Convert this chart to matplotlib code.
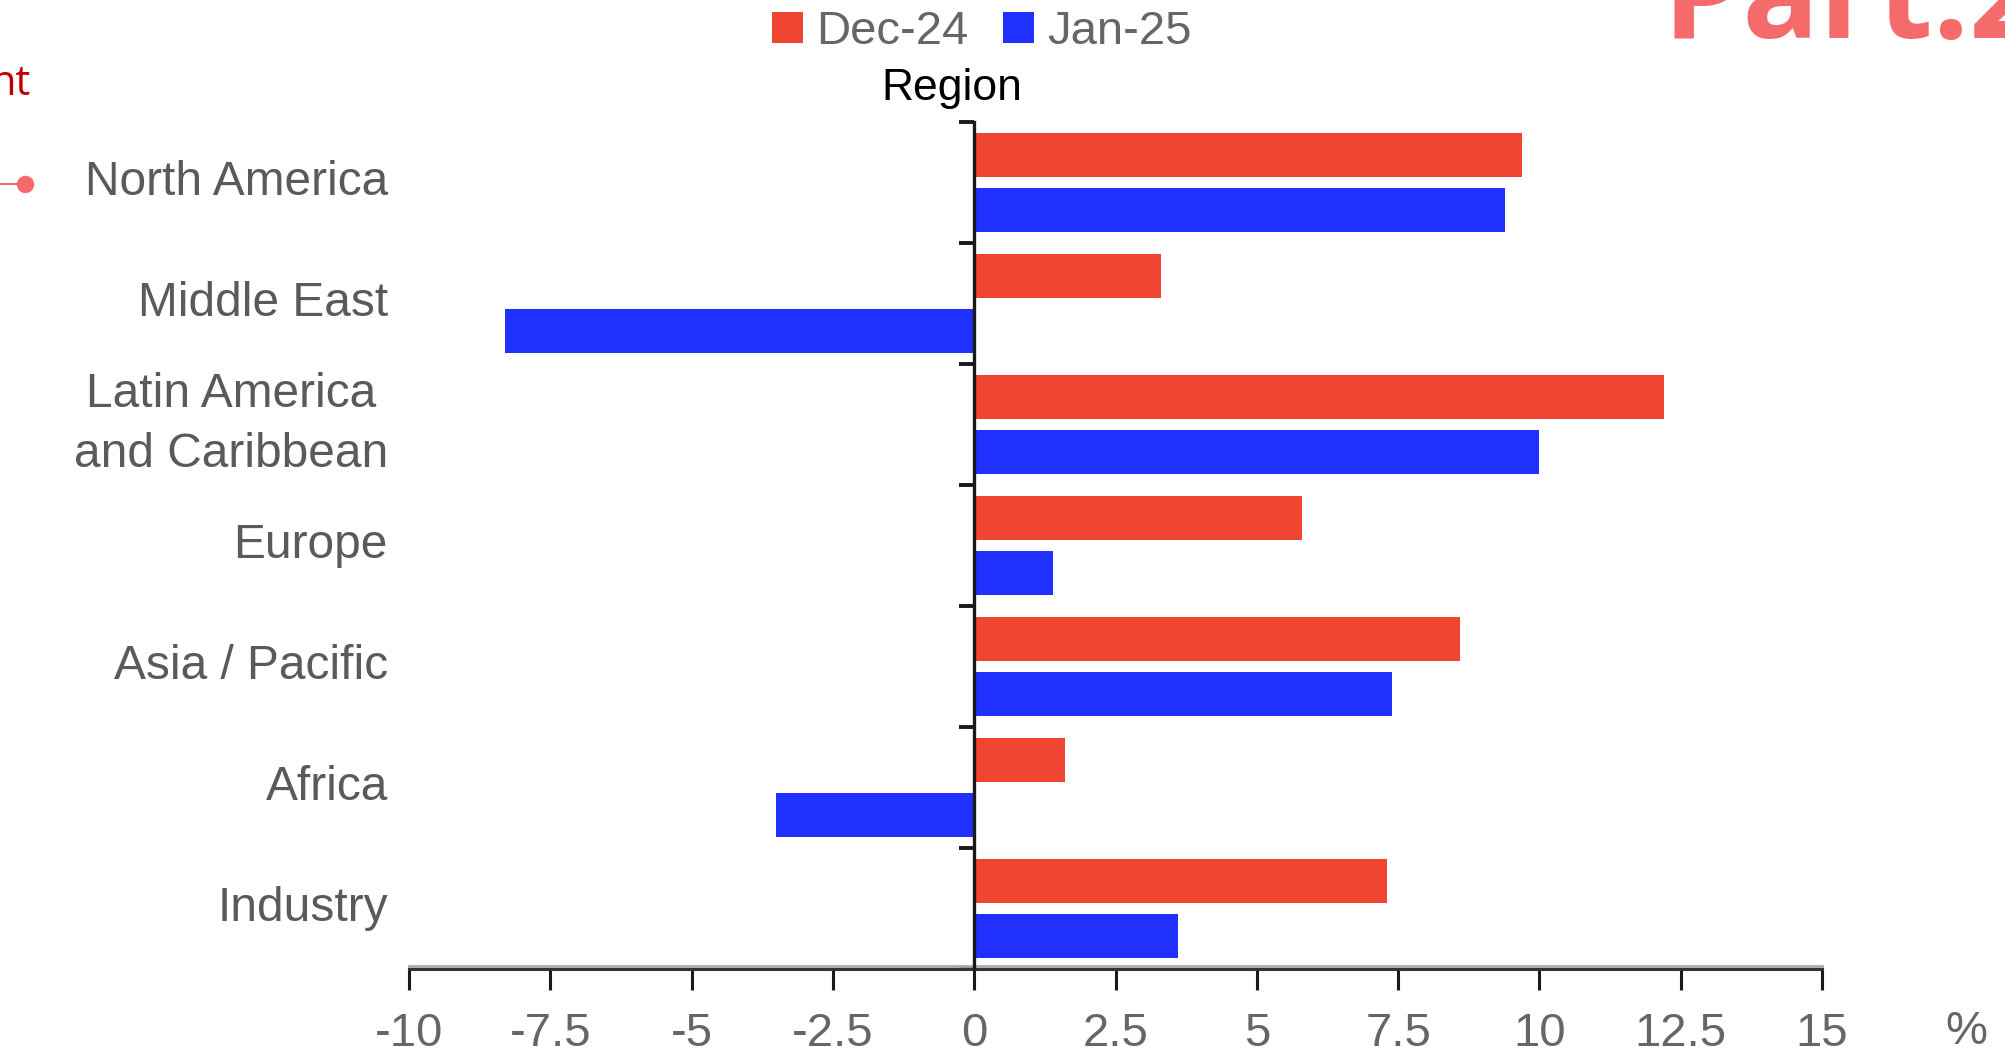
import numpy as np
import matplotlib
matplotlib.use("Agg")
import matplotlib.pyplot as plt
from matplotlib.lines import Line2D
from matplotlib.transforms import offset_copy

plt.rcParams['font.family'] = ['Liberation Sans', 'DejaVu Sans']

regions = ["North America", "Middle East", "Latin America\nand Caribbean",
           "Europe", "Asia / Pacific", "Africa", "Industry"]
dec24 = [9.7, 3.3, 12.2, 5.8, 8.6, 1.6, 7.3]
jan25 = [9.4, -8.3, 10.0, 1.4, 7.4, -3.5, 3.6]
series_names = ["Dec-24", "Jan-25"]
xticks = [-10, -7.5, -5, -2.5, 0, 2.5, 5, 7.5, 10, 12.5, 15]
xtick_labels = ["-10", "-7.5", "-5", "-2.5", "0", "2.5", "5", "7.5", "10", "12.5", "15"]

red = "#F04631"
blue = "#1F30FF"
label_col = "#5a5a5a"

W, H = 2005, 1055
fig = plt.figure(figsize=(W / 100, H / 100), dpi=100)
ax = fig.add_axes([409 / W, 1 - 969 / H, 1413 / W, 847 / H])

y = np.arange(len(regions))
b1 = ax.barh(y - 0.225, dec24, height=0.36, color=red, zorder=3, label=series_names[0])
b2 = ax.barh(y + 0.225, jan25, height=0.36, color=blue, zorder=3, label=series_names[1])

ax.set_xlim(-10, 15)
ax.set_ylim(6.5, -0.5)

# axes styling
for s in ["top", "right"]:
    ax.spines[s].set_visible(False)
ax.spines["left"].set_position(("data", 0))
ax.spines["left"].set_linewidth(2.4)
ax.spines["left"].set_color("#1a1a1a")
ax.spines["left"].set_zorder(4)
ax.spines["bottom"].set_linewidth(2.2)
ax.spines["bottom"].set_color("#333333")

ax.set_yticks(np.arange(-0.5, 7, 1))
ax.set_yticklabels([])
ax.tick_params(axis="y", direction="out", length=11, width=2.8, color="#1a1a1a")

ax.set_xticks(xticks)
ax.set_xticklabels(xtick_labels)
ax.tick_params(axis="x", direction="out", length=15, width=2.2, color="#1a1a1a",
               pad=16, labelsize=34, labelcolor="#666666")

# light gray line just above the x axis
tr = offset_copy(ax.transAxes, fig=fig, x=0, y=3, units="dots")
ax.plot([0, 1], [0, 0], transform=tr, color="#aaaaaa", lw=2, clip_on=False, zorder=2)

# category labels
for i, name in enumerate(regions):
    ax.text(-0.0149, i, name, transform=ax.get_yaxis_transform(), ha="right", va="center",
            fontsize=34.5, color=label_col, multialignment="center", linespacing=1.42)

# legend and axis titles
fig.legend(handles=[b1, b2], loc="center", bbox_to_anchor=(982 / W, 1 - 32 / H), ncol=2,
           frameon=False, fontsize=34, handlelength=0.66, handleheight=0.66,
           handletextpad=0.28, columnspacing=0.72, labelcolor="#666666",
           borderpad=0, borderaxespad=0)
fig.text(952 / W, 1 - 100 / H, "Region", ha="center", va="baseline", fontsize=32, color="black")
fig.text(1966 / W, 1 - 1044 / H, "%", ha="center", va="baseline", fontsize=34, color="#666666")

# cropped fragments at the edges
fig.text(31 / W, 1 - 95 / H, "nt", ha="right", va="baseline", fontsize=30,
         color="#C00000", family="Open Sans")
fy = 1 - 184 / H
fig.add_artist(Line2D([0, 25 / W], [fy, fy], color="#F56A6A", lw=1.5))
fig.add_artist(Line2D([25 / W], [fy], marker="o", ms=11.5, color="#F56A6A"))
fig.text(1662 / W, 1 - 38 / H, "Part.2", ha="left", va="baseline", fontsize=92,
         fontweight="bold", color="#F56A6A", family="Open Sans")

fig.savefig("out.png", dpi=100)
